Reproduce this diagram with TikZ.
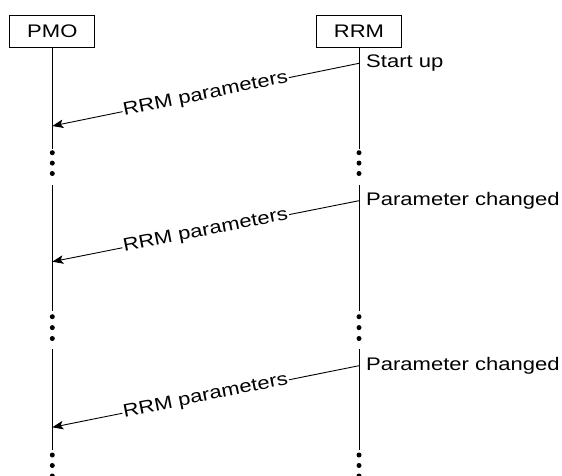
\documentclass[tikz,border=0pt]{standalone}
\usepackage{fontspec}
\setmainfont[FakeStretch=1.21]{Liberation Sans}
\usetikzlibrary{arrows.meta}
\begin{document}
\begin{tikzpicture}[x=1pt,y=-1pt,
  every node/.style={font=\fontsize{18.2}{21}\selectfont},
  actor/.style={draw,line width=0.9pt,minimum width=85pt,minimum height=32pt,inner sep=0pt},
  life/.style={line width=1pt},
  msg/.style={line width=0.9pt,-{Stealth[length=11pt,width=8.5pt,inset=2.5pt]}},
  msglabel/.style={midway,sloped,fill=white,inner sep=1pt},
  note/.style={anchor=west,inner sep=0pt},
  gapdot/.style={circle,fill=black,inner sep=0pt,minimum size=5pt}]
\useasboundingbox (0,0) rectangle (562,475);

% actors
\node[actor] (pmo) at (52.3,31.2) {PMO};
\node[actor] (rrm) at (359,31.2) {RRM};

% lifeline segments
\coordinate (pa1) at (52.3,148.5); \coordinate (ra1) at (359,148.5);
\coordinate (pb0) at (52.3,185);   \coordinate (rb0) at (359,185);
\coordinate (pb1) at (52.3,311);   \coordinate (rb1) at (359,311);
\coordinate (pc0) at (52.3,349);   \coordinate (rc0) at (359,349);
\coordinate (pc1) at (52.3,450);   \coordinate (rc1) at (359,450);
\draw[life] (pmo.south) -- (pa1) (pb0) -- (pb1) (pc0) -- (pc1);
\draw[life] (rrm.south) -- (ra1) (rb0) -- (rb1) (rc0) -- (rc1);

% continuation dots
\foreach \y [count=\i] in {152.7,163.1,173.5,316.7,327.6,338.5,455,465.5,476}{
  \node[gapdot] (pd\i) at (52.3,\y) {};
  \node[gapdot] (rd\i) at (359,\y) {};
}

% messages
\coordinate (m1s) at (359,63.3);  \coordinate (m1e) at (52.3,126);
\coordinate (m2s) at (359,200.7); \coordinate (m2e) at (52.3,261.7);
\coordinate (m3s) at (359,365.7); \coordinate (m3e) at (52.3,427.3);
\draw[msg] (m1s) -- node[msglabel] {RRM parameters} (m1e);
\draw[msg] (m2s) -- node[msglabel] {RRM parameters} (m2e);
\draw[msg] (m3s) -- node[msglabel] {RRM parameters} (m3e);

% triggers
\node[note] (n1) at ([xshift=7pt]m1s) {Start up};
\node[note] (n2) at ([xshift=7pt]m2s) {Parameter changed};
\node[note] (n3) at ([xshift=7pt]m3s) {Parameter changed};
\end{tikzpicture}
\end{document}
